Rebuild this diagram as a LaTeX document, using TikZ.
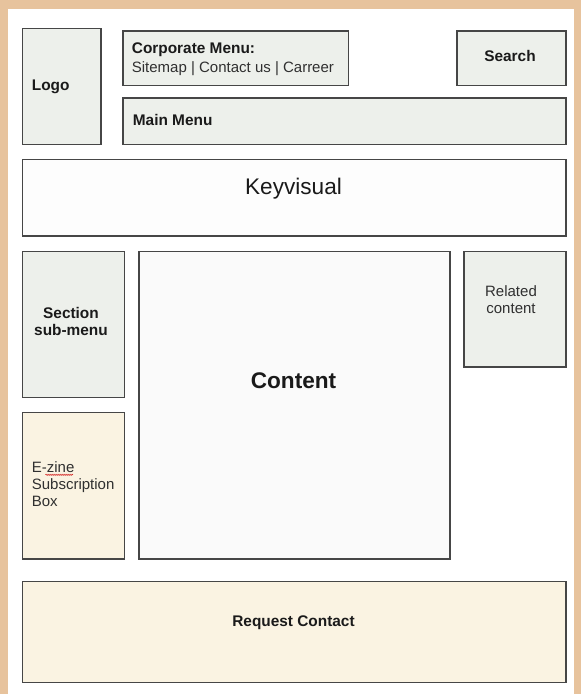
\documentclass[tikz,border=0pt]{standalone}
\usepackage{fontspec}
\setmainfont{Liberation Sans}
\usetikzlibrary{decorations.pathmorphing}
\definecolor{bgbeige}{HTML}{E7C39D}
\definecolor{boxgray}{HTML}{EDF0EB}
\definecolor{boxcream}{HTML}{FAF3E2}
\definecolor{boxwhite}{HTML}{FAFAFA}
\definecolor{keywhite}{HTML}{FDFDFD}
\definecolor{edge}{HTML}{464646}
\definecolor{ink}{HTML}{1A1A1A}
\definecolor{inkreg}{HTML}{303030}
\tikzset{
  wbox/.style={draw=edge, line width=1.5pt, inner sep=0pt, anchor=north west},
  sm/.style={inner sep=0pt, text=inkreg, font=\fontsize{15}{17}\selectfont},
  smb/.style={inner sep=0pt, text=ink, font=\fontsize{15.4}{17}\selectfont\bfseries},
  big/.style={inner sep=0pt, text=ink, font=\fontsize{22.6}{26}\selectfont},
  bigb/.style={inner sep=0pt, text=ink, font=\fontsize{22.6}{26}\selectfont\bfseries},
}
\begin{document}
\begin{tikzpicture}[x=1pt,y=-1pt]
\fill[bgbeige] (0,0) rectangle (581,694);
\fill[white] (7.5,8.5) rectangle (574,694);
\useasboundingbox (0,0) rectangle (581,694);

% boxes
\node[wbox, fill=boxgray, minimum width=78.5pt, minimum height=116pt] (logo) at (21.5,27.5) {};
\node[wbox, fill=boxgray, minimum width=225.5pt, minimum height=54.5pt] (corp) at (122,30) {};
\node[wbox, fill=boxgray, minimum width=109pt, minimum height=54.5pt] (search) at (456,30) {};
\node[wbox, fill=boxgray, minimum width=443pt, minimum height=46.5pt] (mainmenu) at (122,97) {};
\node[wbox, fill=keywhite, minimum width=543.5pt, minimum height=76.5pt] (keyvis) at (21.5,158.5) {};
\node[wbox, fill=boxgray, minimum width=102pt, minimum height=146pt] (section) at (21.5,250.5) {};
\node[wbox, fill=boxwhite, minimum width=311pt, minimum height=307.5pt] (content) at (138,250.5) {};
\node[wbox, fill=boxgray, minimum width=102pt, minimum height=115.5pt] (related) at (463,250.5) {};
\node[wbox, fill=boxcream, minimum width=102pt, minimum height=146.5pt] (ezine) at (21.5,411.5) {};
\node[wbox, fill=boxcream, minimum width=543.5pt, minimum height=101pt] (request) at (21.5,580.7) {};

% texts
\node[smb, anchor=base west] (tlogo) at (31.7,90.7) {Logo};
\node[smb, anchor=base west] (tcorp1) at (131.7,53) {Corporate Menu:};
\node[sm, anchor=base west] (tcorp2) at (131.7,72.7) {Sitemap | Contact us | Carreer};
\node[smb, anchor=base] (tsearch) at (510,61.7) {Search};
\node[smb, anchor=base west] (tmain) at (132.7,125.7) {Main Menu};
\node[big, anchor=base] (tkey) at (293.5,194) {Keyvisual};
\node[smb, anchor=base] (tsec1) at (71,318.3) {Section};
\node[smb, anchor=base] (tsec2) at (71,335) {sub-menu};
\node[bigb, anchor=base] (tcontent) at (293.5,388) {Content};
\node[sm, anchor=base] (trel1) at (511,296) {Related};
\node[sm, anchor=base] (trel2) at (511,313.3) {content};
\node[sm, anchor=base west] (tez1) at (31.7,472.3) {E-zine};
\node[sm, anchor=base west] (tez2) at (31.7,489.5) {Subscription};
\node[sm, anchor=base west] (tez3) at (31.7,506.7) {Box};
\node[smb, anchor=base] (treq) at (293.5,626.7) {Request Contact};

% spell-check squiggle under "zine"
\coordinate (sq1) at (45.5,474.8);
\coordinate (sq2) at (73,474.8);
\draw[red!80!black, line width=0.5pt, decorate, decoration={snake, amplitude=0.6pt, segment length=2pt}] (sq1) -- (sq2);
\end{tikzpicture}
\end{document}
